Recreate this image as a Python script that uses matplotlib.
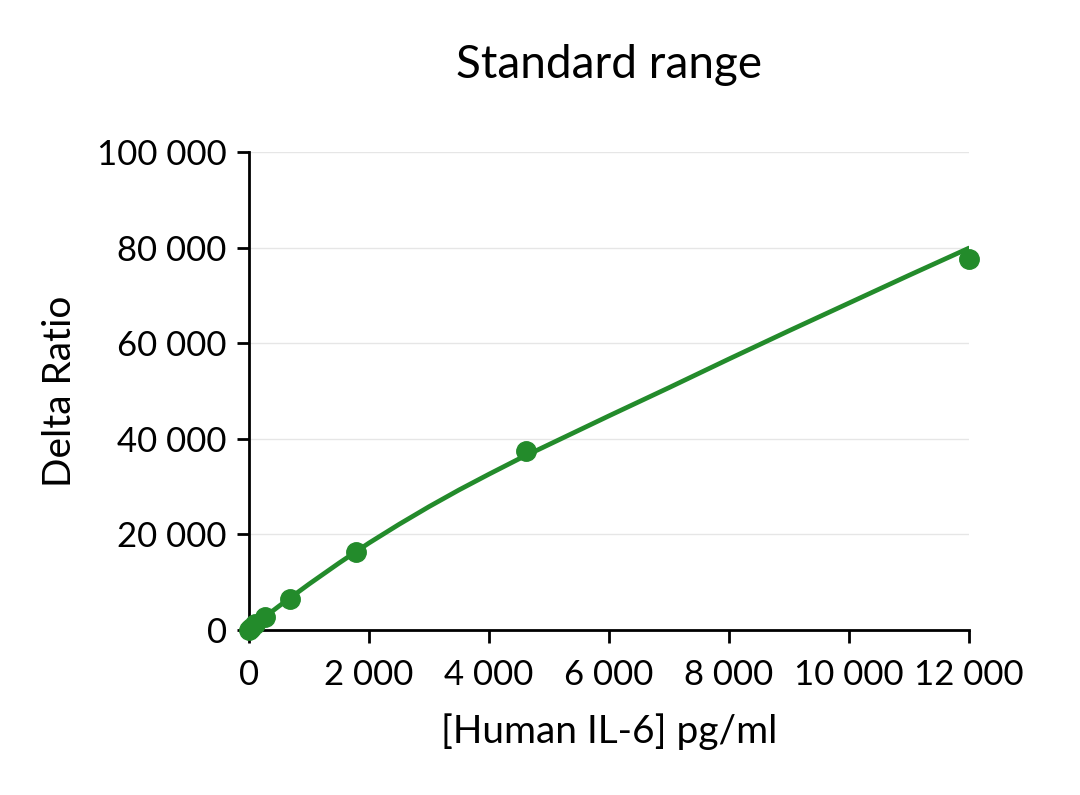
import matplotlib
matplotlib.use("Agg")
import matplotlib.pyplot as plt
from matplotlib.ticker import FuncFormatter

# Data (standard points)
conc = [0, 39, 101, 263, 683, 1775, 4615, 12000]
delta_ratio = [0, 500, 1200, 2700, 6500, 16400, 37500, 77600]

# Fitted curve samples
fit_x = [0, 250, 500, 1000, 1500, 2000, 2500, 3000, 3500, 4000, 4500, 5000, 6000, 7000, 8000, 9000, 10000, 11000, 12000]
fit_y = [0, 2600, 5000, 9600, 14000, 18200, 22100, 25800, 29300, 32600, 35800, 38800, 44800, 50700, 56700, 62600, 68400, 74200, 79900]

x_ticks = [0, 2000, 4000, 6000, 8000, 10000, 12000]
y_ticks = [0, 20000, 40000, 60000, 80000, 100000]

plt.rcParams['font.family'] = ['Lato', 'DejaVu Sans']
green = '#238B2B'

fig = plt.figure(figsize=(10.8, 7.95), dpi=100)
ax = fig.add_axes([249/1080, 165/795, 720/1080, 478/795])

ax.plot(fit_x, fit_y, color=green, lw=3.4, zorder=3, solid_capstyle='round', solid_joinstyle='round')
ax.plot(conc, delta_ratio, 'o', color=green, ms=14, zorder=4, clip_on=False)

ax.set_xlim(0, 12000)
ax.set_ylim(0, 100000)
ax.set_xticks(x_ticks)
ax.set_yticks(y_ticks)
fmt = FuncFormatter(lambda v, p: f"{int(v):,}".replace(",", " "))
ax.xaxis.set_major_formatter(fmt)
ax.yaxis.set_major_formatter(fmt)

ax.grid(axis='y', color='#e6e6e6', lw=1)
ax.set_axisbelow(True)
for s in ['top', 'right']:
    ax.spines[s].set_visible(False)
for s in ['left', 'bottom']:
    ax.spines[s].set_linewidth(2.0)
    ax.spines[s].set_color('black')
ax.tick_params(axis='both', length=9, width=2.0, labelsize=25)
ax.tick_params(axis='x', pad=12)
ax.tick_params(axis='y', pad=7)

ax.set_title("Standard range", fontsize=33, pad=53)
ax.set_xlabel("[Human IL-6] pg/ml", fontsize=28, labelpad=16)
ax.set_ylabel("Delta Ratio", fontsize=28, labelpad=14)

fig.savefig("out.png", dpi=100)
